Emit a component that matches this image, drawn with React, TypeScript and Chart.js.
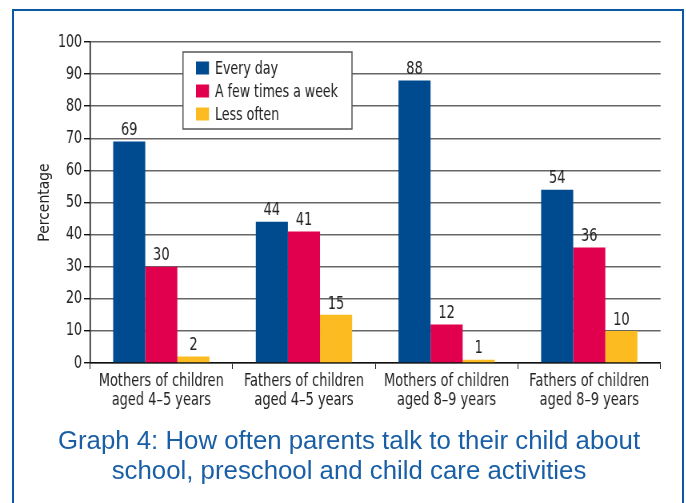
import React, { useEffect, useRef } from "react";
import { Chart, registerables } from "chart.js";

Chart.register(...registerables);

const categories: string[][] = [
  ["Mothers of children", "aged 4–5 years"],
  ["Fathers of children", "aged 4–5 years"],
  ["Mothers of children", "aged 8–9 years"],
  ["Fathers of children", "aged 8–9 years"],
];
const everyDay = [69, 44, 88, 54];
const fewTimesWeek = [30, 41, 12, 36];
const lessOften = [2, 15, 1, 10];
const seriesNames = ["Every day", "A few times a week", "Less often"];
const yTicks = [0, 10, 20, 30, 40, 50, 60, 70, 80, 90, 100];
const yAxisTitle = "Percentage";
const titleLines = [
  "Graph 4: How often parents talk to their child about",
  "school, preschool and child care activities",
];

const FONT = "'DejaVu Sans Condensed', 'Liberation Sans Narrow', sans-serif";
const COLORS = ["#004B8F", "#E0004D", "#FBBB21"];
// horizontal condensing factor (emulates a condensed Helvetica)
const K = 0.8;
const W = 686 / K;
const H = 503;

const valueLabels = {
  id: "valueLabels",
  afterDatasetsDraw(chart: any) {
    const ctx = chart.ctx;
    ctx.save();
    ctx.font = `18px ${FONT}`;
    ctx.fillStyle = "#222";
    ctx.textAlign = "center";
    ctx.textBaseline = "bottom";
    chart.data.datasets.forEach((ds: any, i: number) => {
      const meta = chart.getDatasetMeta(i);
      meta.data.forEach((bar: any, j: number) => {
        ctx.fillText(String(ds.data[j]), bar.x, bar.y - 2);
      });
    });
    ctx.restore();
  },
};

const yTitle = {
  id: "yTitle",
  afterDraw(chart: any) {
    const ctx = chart.ctx;
    const a = chart.chartArea;
    ctx.save();
    ctx.translate(45 / K, (a.top + a.bottom) / 2);
    ctx.scale(1 / K, 1);
    ctx.rotate(-Math.PI / 2);
    ctx.font = `15.5px ${FONT}`;
    ctx.fillStyle = "#222";
    ctx.textAlign = "center";
    ctx.textBaseline = "middle";
    ctx.fillText(yAxisTitle, 0, 0);
    ctx.restore();
  },
};

const boxLegend = {
  id: "boxLegend",
  afterDraw(chart: any) {
    const ctx = chart.ctx;
    const a = chart.chartArea;
    const x = a.left + 93 / K;
    const y = a.top + 10;
    const w = 169 / K;
    const h = 77;
    ctx.save();
    ctx.fillStyle = "#fff";
    ctx.fillRect(x, y, w, h);
    ctx.strokeStyle = "#555";
    ctx.lineWidth = 1.5;
    ctx.strokeRect(x, y, w, h);
    ctx.font = `17.5px ${FONT}`;
    ctx.textBaseline = "middle";
    ctx.textAlign = "left";
    chart.data.datasets.forEach((ds: any, i: number) => {
      const cy = y + 16 + i * 23;
      ctx.fillStyle = ds.backgroundColor;
      ctx.fillRect(x + 13 / K, cy - 6.5, 13 / K, 13);
      ctx.fillStyle = "#222";
      ctx.fillText(ds.label, x + 32 / K, cy + 1);
    });
    ctx.restore();
  },
};

export default function App() {
  const ref = useRef<HTMLCanvasElement>(null);

  useEffect(() => {
    if (!ref.current) return;
    const chart = new Chart(ref.current, {
      type: "bar",
      data: {
        labels: categories,
        datasets: [
          { label: seriesNames[0], data: everyDay, backgroundColor: COLORS[0] },
          { label: seriesNames[1], data: fewTimesWeek, backgroundColor: COLORS[1] },
          { label: seriesNames[2], data: lessOften, backgroundColor: COLORS[2] },
        ],
      },
      plugins: [valueLabels, boxLegend, yTitle],
      options: {
        animation: false,
        responsive: false,
        maintainAspectRatio: false,
        devicePixelRatio: 1,
        layout: { padding: { left: 0, right: 25 / K, top: 42, bottom: 80 } },
        datasets: { bar: { barPercentage: 1, categoryPercentage: 0.675 } },
        plugins: {
          legend: { display: false },
          tooltip: { enabled: false },
          title: { display: false },
        },
        scales: {
          x: {
            afterFit: (s: any) => {
              s.height = 60;
            },
            grid: {
              display: true,
              drawOnChartArea: false,
              drawTicks: true,
              tickLength: 6,
              color: "#222",
              offset: true,
            },
            border: { display: true, color: "#111", width: 1.5 },
            ticks: {
              color: "#222",
              font: { family: FONT, size: 18, lineHeight: 1.1 },
              padding: 2,
              maxRotation: 0,
              autoSkip: false,
            },
          },
          y: {
            min: 0,
            max: 100,
            afterFit: (s: any) => {
              s.width = 90 / K;
            },
            afterBuildTicks: (s: any) => {
              s.ticks = yTicks.map((v) => ({ value: v }));
            },
            grid: {
              color: "#666",
              lineWidth: 1.4,
              drawTicks: true,
              tickLength: 6 / K,
              tickColor: "#111",
            },
            border: { display: true, color: "#111", width: 1.5 },
            ticks: {
              color: "#222",
              font: { family: FONT, size: 17.5 },
              padding: 2 / K,
            },
            title: { display: false },
          },
        },
      },
    });
    return () => chart.destroy();
  }, []);

  return (
    <div
      style={{
        position: "fixed",
        left: 0,
        top: 0,
        width: 686,
        height: 503,
        background: "#fff",
        overflow: "hidden",
      }}
    >
      <div
        style={{
          position: "absolute",
          left: 12,
          top: 9,
          width: 672,
          height: 520,
          border: "2px solid #0A58A6",
          boxSizing: "border-box",
        }}
      />
      <div
        style={{
          position: "absolute",
          left: 0,
          top: 0,
          width: W,
          height: H,
          transform: `scaleX(${K})`,
          transformOrigin: "0 0",
        }}
      >
        <canvas ref={ref} width={W} height={H} />
      </div>
      <div
        style={{
          position: "absolute",
          left: 0,
          top: 425,
          width: 698,
          textAlign: "center",
          color: "#1A5FA6",
          fontFamily: "'Liberation Sans', Arial, sans-serif",
          fontSize: 25.8,
          lineHeight: "30px",
          whiteSpace: "nowrap",
        }}
      >
        {titleLines.map((t, i) => (
          <div key={i}>{t}</div>
        ))}
      </div>
    </div>
  );
}
